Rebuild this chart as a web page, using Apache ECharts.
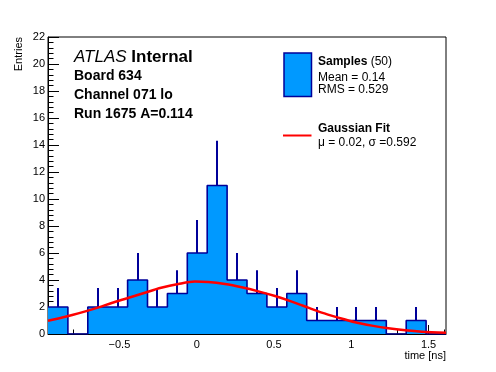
<!DOCTYPE html>
<html><head><meta charset="utf-8">
<script src="https://cdn.jsdelivr.net/npm/echarts@6/dist/echarts.min.js"></script>
<style>html,body{margin:0;padding:0;background:#fff}#c{width:496px;height:372px}</style>
</head><body><div id="c"></div>
<script>
// Histogram definition and contents
const binLow = -0.962;
const binHigh = 1.613;
const counts = [2,0,2,2,4,2,3,6,11,4,3,2,3,1,1,1,1,0,1,0];
const errors = [1.41,0,1.41,1.41,2,1.41,1.73,2.45,3.32,2,1.73,1.41,1.73,1,1,1,1,0,1,0];
// Gaussian fit curve
const fitX = [-0.962,-0.85,-0.766,-0.65,-0.55,-0.45,-0.335,-0.23,-0.119,-0.011,0.075,0.183,0.291,0.399,0.507,0.615,0.722,0.809,0.917,1.025,1.133,1.24,1.35,1.456,1.613];
const fitY = [0.98,1.28,1.53,1.92,2.30,2.65,3.06,3.42,3.70,3.88,3.85,3.70,3.46,3.16,2.81,2.40,1.95,1.58,1.21,0.87,0.62,0.42,0.27,0.17,0.10];
// Axis ticks
const xMajorTicks = [-0.5,0,0.5,1,1.5];
const xMinorTicks = [-0.9,-0.8,-0.7,-0.6,-0.4,-0.3,-0.2,-0.1,0.1,0.2,0.3,0.4,0.6,0.7,0.8,0.9,1.1,1.2,1.3,1.4,1.6];
const yMin = 0, yMax = 22, yStep = 2;

const FONT = '"Liberation Sans", Arial, Helvetica, sans-serif';
const FILL = '#0099ff', EDGE = '#000099';

const nBins = counts.length;
const width = (binHigh - binLow) / nBins;
const stepData = [];
for (let i = 0; i < nBins; i++) stepData.push([binLow + i * width, counts[i]]);
stepData.push([binHigh, counts[nBins - 1]]);
const errData = [];
for (let i = 0; i < nBins; i++) {
  if (errors[i] > 0) {
    const c = binLow + (i + 0.5) * width;
    errData.push([c, counts[i], counts[i] + errors[i]]);
  }
}
const fitData = fitX.map((x, i) => [x, fitY[i]]);

const chart = echarts.init(document.getElementById('c'), null, {renderer: 'canvas'});
chart.setOption({
  animation: false,
  backgroundColor: '#fff',
  grid: {left: 48, right: 50, top: 37, bottom: 38, show: true, borderColor: '#000', borderWidth: 1, backgroundColor: 'transparent'},
  xAxis: [{
    type: 'value', min: binLow, max: binHigh, position: 'bottom',
    axisLine: {show: true, onZero: false, lineStyle: {color: '#000', width: 1}},
    axisTick: {show: true, inside: true, length: 9, customValues: xMajorTicks, lineStyle: {color: '#000'}},
    axisLabel: {show: true, customValues: xMajorTicks, margin: 5, fontSize: 11, fontFamily: FONT, color: '#000',
      formatter: v => String(v).replace('-', '\u2212')},
    splitLine: {show: false}
  }, {
    type: 'value', min: binLow, max: binHigh, position: 'bottom', offset: 0,
    axisLine: {show: false},
    axisTick: {show: true, inside: true, length: 4.5, customValues: xMinorTicks, lineStyle: {color: '#000'}},
    axisLabel: {show: false},
    splitLine: {show: false}
  }],
  yAxis: {
    type: 'value', min: yMin, max: yMax, interval: yStep,
    axisLine: {show: true, onZero: false, lineStyle: {color: '#000', width: 1}},
    axisTick: {show: true, inside: true, length: 11, lineStyle: {color: '#000'}},
    minorTick: {show: true, splitNumber: 5, length: 5.5, lineStyle: {color: '#000'}},
    axisLabel: {margin: 3, fontSize: 11, fontFamily: FONT, color: '#000'},
    splitLine: {show: false}
  },
  series: [{
    type: 'custom', xAxisIndex: 0, z: 5,
    data: errData,
    encode: {x: 0, y: [1, 2]},
    renderItem: function (params, api) {
      const p0 = api.coord([api.value(0), api.value(1)]);
      const p1 = api.coord([api.value(0), api.value(2)]);
      const px = Math.round(p0[0]);
      return {type: 'line', z2: 10, shape: {x1: px, y1: p0[1], x2: px, y2: p1[1]},
        style: {stroke: EDGE, lineWidth: 2}};
    }
  }, {
    type: 'line', xAxisIndex: 0, z: 3, step: 'end', symbol: 'none',
    data: stepData,
    lineStyle: {color: EDGE, width: 1.6},
    itemStyle: {color: EDGE},
    areaStyle: {color: FILL, opacity: 1}
  }, {
    type: 'line', xAxisIndex: 0, z: 6, smooth: 0.3, symbol: 'none',
    data: fitData,
    lineStyle: {color: '#ff0000', width: 2.5},
    itemStyle: {color: '#ff0000'}
  }],
  graphic: [
    {type: 'text', x: 19, y: 37, rotation: Math.PI / 2,
      style: {text: 'Entries', font: '11px ' + FONT, textAlign: 'right', textVerticalAlign: 'middle', fill: '#000'}},
    {type: 'text', x: 446, y: 355.5,
      style: {text: 'time [ns]', font: '11px ' + FONT, textAlign: 'right', textVerticalAlign: 'middle', fill: '#000'}},
    {type: 'text', x: 74, y: 57.5,
      style: {text: '{a|ATLAS} {b|Internal}', font: '17px ' + FONT, textAlign: 'left', textVerticalAlign: 'middle', fill: '#000',
        rich: {a: {font: 'italic 17px ' + FONT, fill: '#000'}, b: {font: 'bold 17px ' + FONT, fill: '#000'}}}},
    {type: 'text', x: 74, y: 76,
      style: {text: 'Board 634', font: 'bold 14px ' + FONT, textAlign: 'left', textVerticalAlign: 'middle', fill: '#000'}},
    {type: 'text', x: 74, y: 94.8,
      style: {text: 'Channel 071 lo', font: 'bold 14px ' + FONT, textAlign: 'left', textVerticalAlign: 'middle', fill: '#000'}},
    {type: 'text', x: 74, y: 113.7,
      style: {text: 'Run 1675 A=0.114', font: 'bold 14px ' + FONT, textAlign: 'left', textVerticalAlign: 'middle', fill: '#000'}},
    {type: 'rect', shape: {x: 284, y: 53, width: 27.5, height: 43.5},
      style: {fill: FILL, stroke: EDGE, lineWidth: 1.5}},
    {type: 'text', x: 318, y: 62,
      style: {text: '{b|Samples} (50)', font: '12px ' + FONT, textAlign: 'left', textVerticalAlign: 'middle', fill: '#000',
        rich: {b: {font: 'bold 12px ' + FONT, fill: '#000'}}}},
    {type: 'text', x: 318, y: 77.7,
      style: {text: 'Mean = 0.14', font: '12px ' + FONT, textAlign: 'left', textVerticalAlign: 'middle', fill: '#000'}},
    {type: 'text', x: 318, y: 90,
      style: {text: 'RMS = 0.529', font: '12px ' + FONT, textAlign: 'left', textVerticalAlign: 'middle', fill: '#000'}},
    {type: 'line', shape: {x1: 283, y1: 135.5, x2: 311.5, y2: 135.5},
      style: {stroke: '#ff0000', lineWidth: 2}},
    {type: 'text', x: 318, y: 128.8,
      style: {text: 'Gaussian Fit', font: 'bold 12px ' + FONT, textAlign: 'left', textVerticalAlign: 'middle', fill: '#000'}},
    {type: 'text', x: 318, y: 143,
      style: {text: '\u03bc = 0.02, \u03c3 =0.592', font: '12px ' + FONT, textAlign: 'left', textVerticalAlign: 'middle', fill: '#000'}}
  ]
});
</script>
</body></html>
